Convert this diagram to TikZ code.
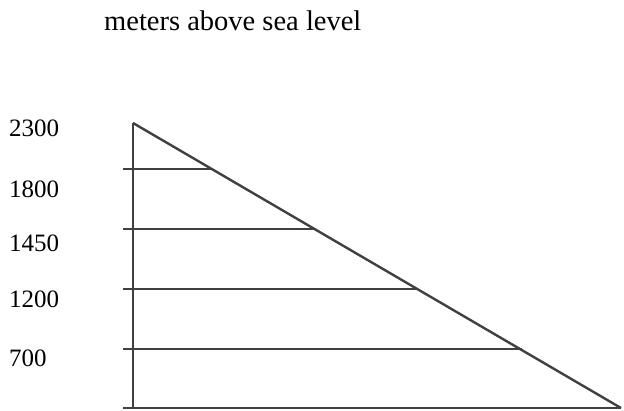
\documentclass[tikz,border=0pt]{standalone}
\usepackage{fontspec}
\setmainfont{Liberation Serif}
\definecolor{linegray}{RGB}{64,64,64}
\begin{document}
\begin{tikzpicture}[x=1pt,y=-1pt,
  lbl/.style={anchor=base west,inner sep=0pt,font=\fontsize{25}{30}\selectfont},
  ttl/.style={anchor=base west,inner sep=0pt,font=\fontsize{28.5}{34}\selectfont},
  ln/.style={draw=linegray,line width=2.4pt}]
\useasboundingbox (0,0) rectangle (624,410);
\node[ttl] (title) at (104,30) {meters above sea level};
\node[lbl] (l2300) at (9,136) {2300};
\node[lbl] (l1800) at (9,197) {1800};
\node[lbl] (l1450) at (9,251) {1450};
\node[lbl] (l1200) at (9,307) {1200};
\node[lbl] (l700) at (9,366) {700};
\coordinate (top) at (133,123);
\coordinate (bl) at (133,408);
\coordinate (br) at (621,408);
\coordinate (s1a) at (123,169); \coordinate (s1b) at (211,169);
\coordinate (s2a) at (123,229); \coordinate (s2b) at (315,229);
\coordinate (s3a) at (123,289); \coordinate (s3b) at (418,289);
\coordinate (s4a) at (123,349); \coordinate (s4b) at (522,349);
\coordinate (s5a) at (123,408);
\draw[ln] (top) -- (bl);
\draw[ln] (top) -- (br);
\draw[ln] (s5a) -- (br);
\draw[ln] (s1a) -- (s1b);
\draw[ln] (s2a) -- (s2b);
\draw[ln] (s3a) -- (s3b);
\draw[ln] (s4a) -- (s4b);
\end{tikzpicture}
\end{document}
